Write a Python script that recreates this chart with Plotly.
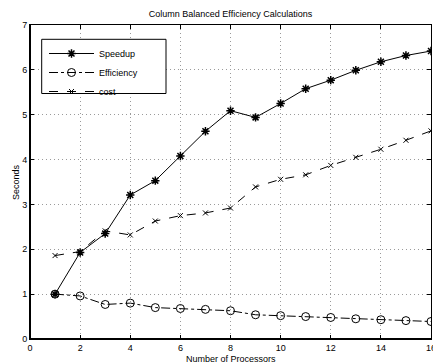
import plotly.graph_objects as go

processors = list(range(1, 17))
speedup = [1.00, 1.93, 2.35, 3.21, 3.53, 4.08, 4.63, 5.09, 4.94, 5.25, 5.58, 5.77, 5.99, 6.18, 6.32, 6.42]
efficiency = [1.00, 0.96, 0.77, 0.80, 0.70, 0.68, 0.66, 0.63, 0.54, 0.52, 0.50, 0.48, 0.45, 0.43, 0.41, 0.39]
cost = [1.86, 1.95, 2.41, 2.32, 2.63, 2.75, 2.81, 2.92, 3.39, 3.56, 3.66, 3.87, 4.05, 4.23, 4.43, 4.64]

x_ticks = [0, 2, 4, 6, 8, 10, 12, 14, 16]
y_ticks = [0, 1, 2, 3, 4, 5, 6, 7]

fig = go.Figure()
fig.add_trace(go.Scatter(
    x=processors, y=speedup, name="Speedup", mode="lines+markers",
    line=dict(color="black", width=1),
    marker=dict(symbol="asterisk-open", size=7, color="black", line=dict(color="black", width=1.5)),
))
fig.add_trace(go.Scatter(
    x=processors, y=efficiency, name="Efficiency", mode="lines+markers",
    line=dict(color="black", width=1, dash="dashdot"),
    marker=dict(symbol="circle-open", size=8, color="black", line=dict(color="black", width=1)),
))
fig.add_trace(go.Scatter(
    x=processors, y=cost, name="cost", mode="lines+markers",
    line=dict(color="black", width=1, dash="dash"),
    marker=dict(symbol="x-thin-open", size=5, color="black", line=dict(color="black", width=1)),
))

axis_common = dict(
    showline=True, linecolor="black", linewidth=1, mirror="ticks",
    ticks="inside", ticklen=4, tickcolor="black",
    showgrid=True, gridcolor="#9a9a9a", griddash="1px,3px", gridwidth=1,
    zeroline=False, automargin=False, ticklabeloverflow="allow",
    tickfont=dict(size=9, color="black"),
)

PW = 433 - 30 - 2
PH = 364 - 25 - 25

fig.update_layout(
    width=433, height=364,
    margin=dict(l=30, r=2, t=25, b=25, autoexpand=False),
    paper_bgcolor="white", plot_bgcolor="white",
    font=dict(family="Liberation Sans, Arial, sans-serif", size=9, color="black"),
    title=dict(text="Column Balanced Efficiency Calculations", x=0.5, xref="paper", xanchor="center",
               y=1 - 14 / 364, yanchor="middle", font=dict(size=9)),
    xaxis=dict(range=[0, 16], tickvals=x_ticks, **axis_common),
    yaxis=dict(range=[0, 7], tickvals=y_ticks, **axis_common),
    legend=dict(x=(44 - 30) / PW, y=(339 - 39) / PH, xanchor="left", yanchor="top",
                borderwidth=0, bgcolor="rgba(0,0,0,0)",
                font=dict(size=9), itemwidth=45, tracegroupgap=0),
    showlegend=True,
)

fig.add_annotation(text="Number of Processors", xref="paper", yref="paper",
                   x=0.5, y=-(359 - 339) / PH, xanchor="center", yanchor="middle",
                   showarrow=False, font=dict(size=9))
fig.add_annotation(text="Seconds", xref="paper", yref="paper", textangle=-90,
                   x=(16 - 30) / PW, y=0.5, xanchor="center", yanchor="middle",
                   showarrow=False, font=dict(size=9))

# legend frame
fig.add_shape(type="rect", xref="paper", yref="paper",
              x0=(41.7 - 30) / PW, x1=(166 - 30) / PW,
              y0=(339 - 93.5) / PH, y1=(339 - 39.3) / PH,
              line=dict(color="black", width=1), fillcolor="white", layer="above")

fig.add_shape(type="line", xref="paper", yref="paper", x0=0, x1=0, y0=0, y1=1,
              line=dict(color="black", width=2))
fig.add_shape(type="line", xref="paper", yref="paper", x0=0, x1=1, y0=0, y1=0,
              line=dict(color="black", width=2))

fig.write_html("out.html", config={"displayModeBar": False},
               post_script="document.body.style.margin='0';document.body.style.padding='0';")
